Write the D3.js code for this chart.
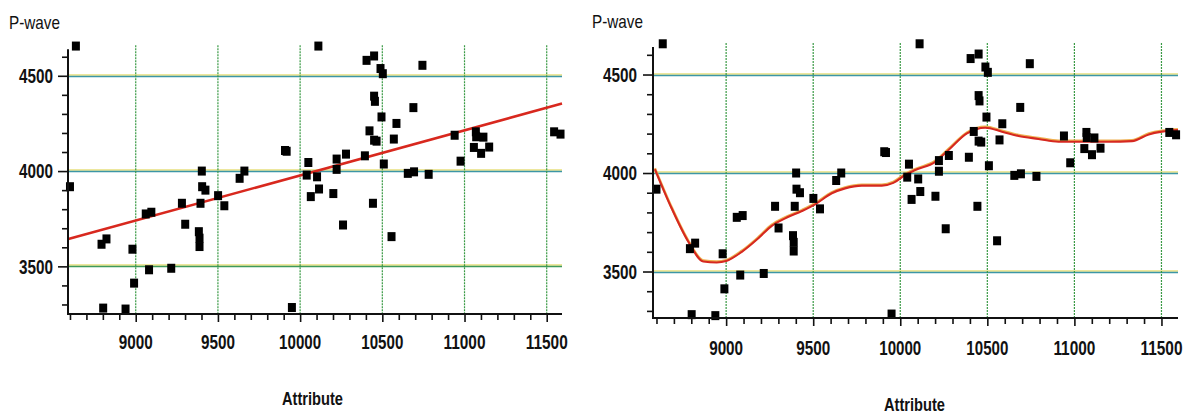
<!DOCTYPE html>
<html><head><meta charset="utf-8">
<script src="https://cdn.jsdelivr.net/npm/d3@7/dist/d3.min.js"></script>
<style>
html,body{margin:0;padding:0;background:#fff;}
svg text{font-family:"Liberation Sans","Arial",sans-serif;fill:#111;}
</style></head>
<body>
<svg id="c" width="1189" height="414"></svg>
<script>
// ---- data ----
const attrX = [8636,8600,8792,8822,8802,8938,8980,8990,9061,9095,9081,9216,9281,9301,9384,9388,9388,9394,9402,9404,9424,9501,9539,9632,9661,9908,9918,9950,
  10111,10404,10450,10489,10503,10744,10450,10455,10495,10689,10422,10586,10570,10450,10465,10279,10394,10509,10050,10040,10103,10222,10222,10065,10115,10202,10443,10261,10556,10655,10693,10782,10940,10976,11069,11071,11115,11057,11101,11150,11545,11584];
const pwaveY = [4656,3918,3616,3644,3281,3276,3590,3412,3775,3784,3482,3490,3831,3721,3682,3648,3604,3831,4000,3918,3900,3871,3818,3962,4000,4108,4104,3284,
  4656,4581,4604,4538,4511,4555,4393,4366,4284,4333,4211,4250,4168,4162,4157,4089,4080,4037,4045,3979,3970,4063,4009,3866,3906,3882,3831,3717,3656,3988,3996,3983,4188,4052,4206,4180,4178,4124,4093,4126,4206,4194];
// linear fit (left panel) endpoints
const fitX = [8590, 11593];
const fitY = [3644, 4354];
// smooth fit (right panel)
const smoothX = [8591,8687,8783,8869,8946,9000,9090,9185,9262,9339,9435,9511,9607,9683,9779,9894,9960,10028,10086,10201,10277,10383,10488,10584,10679,10794,10909,11044,11197,11331,11427,11503,11595];
const smoothY = [4019,3821,3651,3551,3546,3553,3600,3669,3732,3770,3807,3841,3897,3922,3936,3936,3950,3990,4015,4057,4117,4201,4230,4210,4188,4173,4159,4159,4159,4162,4196,4210,4218];
const yTickLabels = [3500, 4000, 4500];
const xTickLabels = [9000, 9500, 10000, 10500, 11000, 11500];
const yLabel = "P-wave";
const xLabel = "Attribute";

const svg = d3.select("#c");

const panels = [
  {xd:[8588,11593], xr:[68,562], yd:[3250,4660], yr:[314,45.3], fit:"linear",
   yl:{x:9,y:29}, xl:{x:312,y:405}, xlabY:349, ylabX:53},
  {xd:[8580,11595], xr:[653,1178], yd:[3264,4660], yr:[318,43], fit:"smooth",
   yl:{x:592,y:28}, xl:{x:914,y:411}, xlabY:355, ylabX:637}
];

panels.forEach(p => {
  const x = d3.scaleLinear().domain(p.xd).range(p.xr);
  const y = d3.scaleLinear().domain(p.yd).range(p.yr);
  const g = svg.append("g");
  const top = p.yr[1], bot = p.yr[0], left = p.xr[0], right = p.xr[1];

  // horizontal gridlines (yellow over teal)
  yTickLabels.forEach(v => {
    const yy = Math.round(y(v));
    g.append("line").attr("x1", left).attr("x2", right).attr("y1", yy-1).attr("y2", yy-1)
      .attr("stroke", "#dccf3c").attr("stroke-width", 1.2);
    g.append("line").attr("x1", left).attr("x2", right).attr("y1", yy+0.5).attr("y2", yy+0.5)
      .attr("stroke", v === 3500 && p.fit === "linear" ? "#3f9a5c" : "#3c96a6").attr("stroke-width", 1.4);
  });
  // vertical gridlines
  xTickLabels.forEach(v => {
    g.append("line").attr("x1", x(v)).attr("x2", x(v)).attr("y1", top).attr("y2", bot)
      .attr("stroke", "#3a9a45").attr("stroke-width", 1.2).attr("stroke-dasharray", "2,1");
  });

  // fit lines
  if (p.fit === "linear") {
    g.append("line").attr("x1", x(fitX[0])).attr("y1", y(fitY[0]))
      .attr("x2", x(fitX[1])).attr("y2", y(fitY[1]))
      .attr("stroke", "#d8281e").attr("stroke-width", 2.6);
  } else {
    const pts = smoothX.map((v,i)=>[v, smoothY[i]]);
    const line = d3.line().x(d=>x(d[0])).y(d=>y(d[1])).curve(d3.curveMonotoneX);
    g.append("path").attr("d", line(pts)).attr("fill","none")
      .attr("stroke","#eeb050").attr("stroke-width",2.6).attr("transform","translate(0,-0.9)");
    g.append("path").attr("d", line(pts)).attr("fill","none")
      .attr("stroke","#d62820").attr("stroke-width",2.1);
  }

  // points
  g.selectAll("rect.pt").data(attrX.map((v,i)=>[v,pwaveY[i]])).join("rect")
    .attr("class","pt")
    .attr("x", d => x(d[0]) - 4).attr("y", d => y(d[1]) - 4.5)
    .attr("width", 8).attr("height", 9).attr("fill", "#000");

  // axes
  const yAxis = d3.axisLeft(y)
    .tickValues(d3.range(3300, 4601, 100))
    .tickSize(6).tickFormat("");
  const ya = g.append("g").attr("transform", `translate(${left},0)`).call(yAxis);
  ya.select(".domain").remove();
  ya.selectAll(".tick line").attr("stroke","#111").attr("stroke-width",1.6)
    .attr("x2", d => yTickLabels.includes(d) ? -10 : -6);
  g.append("line").attr("x1", left).attr("x2", left).attr("y1", top+4).attr("y2", bot+1)
    .attr("stroke","#111").attr("stroke-width",2);

  const xAxis = d3.axisBottom(x)
    .tickValues(d3.range(8600, 11501, 100))
    .tickSize(6).tickFormat("");
  const xa = g.append("g").attr("transform", `translate(0,${bot})`).call(xAxis);
  xa.select(".domain").remove();
  xa.selectAll(".tick line").attr("stroke","#111").attr("stroke-width",1.6)
    .attr("y2", d => xTickLabels.includes(d) ? 8 : 6);
  g.append("line").attr("x1", left-1).attr("x2", right).attr("y1", bot).attr("y2", bot)
    .attr("stroke","#111").attr("stroke-width",2.2);

  // tick labels (condensed look)
  g.selectAll("text.yl").data(yTickLabels).join("text").attr("class","yl")
    .attr("x", p.ylabX - 34).attr("y", d => y(d)).attr("dy","0.36em")
    .attr("font-size",20).attr("font-weight","bold")
    .attr("textLength", 34).attr("lengthAdjust","spacingAndGlyphs")
    .text(d => d);
  g.selectAll("text.xl").data(xTickLabels).join("text").attr("class","xl")
    .attr("x", d => x(d) - (String(d).length === 4 ? 17 : 21)).attr("y", p.xlabY)
    .attr("font-size",20).attr("font-weight","bold")
    .attr("textLength", d => String(d).length === 4 ? 34 : 42).attr("lengthAdjust","spacingAndGlyphs")
    .text(d => d);

  // axis titles
  g.append("text").attr("x", p.yl.x).attr("y", p.yl.y).attr("font-size",19)
    .attr("textLength", 51).attr("lengthAdjust","spacingAndGlyphs").text(yLabel);
  g.append("text").attr("x", p.xl.x - 30).attr("y", p.xl.y)
    .attr("font-size",19).attr("font-weight","bold")
    .attr("textLength", 61).attr("lengthAdjust","spacingAndGlyphs").text(xLabel);
});
</script>
</body></html>
